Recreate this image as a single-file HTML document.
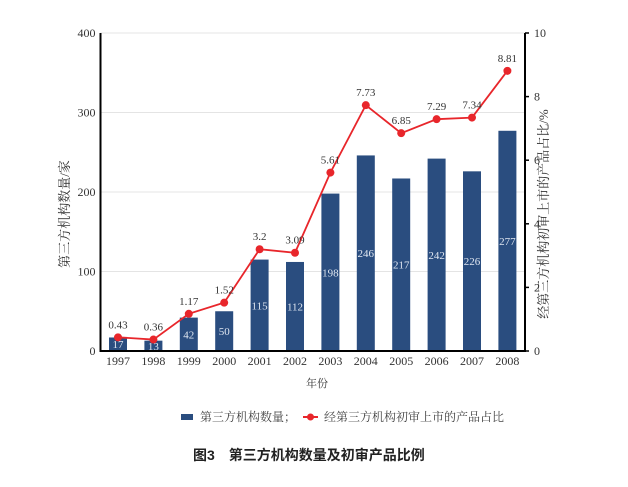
<!DOCTYPE html>
<html><head><meta charset="utf-8"><style>
body{margin:0;background:#fff;width:628px;height:487px;overflow:hidden}
svg{display:block}
text{font-family:"Liberation Serif","Noto Serif CJK SC",serif}
</style></head><body>
<svg id="c" width="628" height="487">
<g id="grid"></g>
<g id="bars"></g>
<g id="line"></g>
<g id="axes"></g>
<text x="317" y="387" font-size="11" fill="#333" text-anchor="middle">年份</text>
<text transform="translate(69,214) rotate(-90)" font-size="13" fill="#333" text-anchor="middle" font-family="Liberation Serif,Noto Serif CJK SC,serif">第三方机构数量/家</text>
<text transform="translate(548,214) rotate(-90)" font-size="13" fill="#333" text-anchor="middle">经第三方机构初审上市的产品占比/%</text>
<g>
<rect x="181" y="414" width="12" height="6" fill="#2a4d7f"/>
<text x="200" y="421" font-size="12" fill="#444">第三方机构数量；</text>
<line x1="303" y1="417" x2="318" y2="417" stroke="#e8262b" stroke-width="2"/>
<circle cx="310.5" cy="417" r="3.5" fill="#e8262b"/>
<text x="324" y="421" font-size="12" fill="#444">经第三方机构初审上市的产品占比</text>
</g>
<text x="193" y="460" font-size="14" font-weight="bold" fill="#222" style="font-family:'Liberation Sans','Noto Sans CJK SC',sans-serif">图3　第三方机构数量及初审产品比例</text>
</svg>
<script>
const years=["1997","1998","1999","2000","2001","2002","2003","2004","2005","2006","2007","2008"];
const counts=[17,13,42,50,115,112,198,246,217,242,226,277];
const ratios=[0.43,0.36,1.17,1.52,3.2,3.09,5.61,7.73,6.85,7.29,7.34,8.81];
const leftTicks=[0,100,200,300,400];
const rightTicks=[0,2,4,6,8,10];
const NS="http://www.w3.org/2000/svg";
const X0=100.5,X1=525,Y0=351,Y1=33;
const yL=v=>Y0-(Y0-Y1)*v/400;
const yR=v=>Y0-(Y0-Y1)*v/10;
const xC=i=>118+i*35.4;
function mk(tag,attrs,parent){const e=document.createElementNS(NS,tag);for(const k in attrs)e.setAttribute(k,attrs[k]);parent.appendChild(e);return e;}
const grid=document.getElementById('grid'),bars=document.getElementById('bars'),line=document.getElementById('line'),axes=document.getElementById('axes');
leftTicks.forEach(t=>{
 if(t>0){const g=mk('line',{x1:X0,x2:X1,y1:yL(t),y2:yL(t),stroke:'#e4e4e4','stroke-width':1},grid);
 
 }
 const tx=mk('text',{x:X0-5,y:yL(t)+4,'font-size':12,fill:'#333','text-anchor':'end'},axes);tx.textContent=t;
 
 
});
rightTicks.forEach(t=>{
 mk('line',{x1:X1,x2:X1+4,y1:yR(t),y2:yR(t),stroke:'#000','stroke-width':1.5},axes);
 const tx=mk('text',{x:X1+9,y:yR(t)+4,'font-size':12,fill:'#333'},axes);tx.textContent=t;
 
 
});
counts.forEach((v,i)=>{
 const r=mk('rect',{x:xC(i)-9,y:yL(v),width:18,height:Y0-yL(v),fill:'#2a4d7f'},bars);
 
 
 const t=mk('text',{x:xC(i),y:(yL(v)+Y0)/2+4,'font-size':11,fill:'#dfe6f0','text-anchor':'middle'},bars);t.textContent=v;
 
 
 const xl=mk('text',{x:xC(i),y:365,'font-size':12,fill:'#333','text-anchor':'middle'},axes);xl.textContent=years[i];
 
 
});
const pl=mk('polyline',{points:ratios.map((v,i)=>xC(i)+','+yR(v)).join(' '),fill:'none',stroke:'#e8262b','stroke-width':1.8},line);


ratios.forEach((v,i)=>{
 const c=mk('circle',{cx:xC(i),cy:yR(v),r:4,fill:'#e8262b'},line);
 
 
 const t=mk('text',{x:xC(i),y:yR(v)-9,'font-size':11,fill:'#333','text-anchor':'middle'},line);t.textContent=v;
 
 
});
mk('line',{x1:X0,x2:X0,y1:Y1,y2:Y0+1,stroke:'#000','stroke-width':2},axes);
mk('line',{x1:X1,x2:X1,y1:Y1,y2:Y0+1,stroke:'#000','stroke-width':2},axes);
mk('line',{x1:X0,x2:X1,y1:Y0,y2:Y0,stroke:'#000','stroke-width':2},axes);
</script>
</body></html>
